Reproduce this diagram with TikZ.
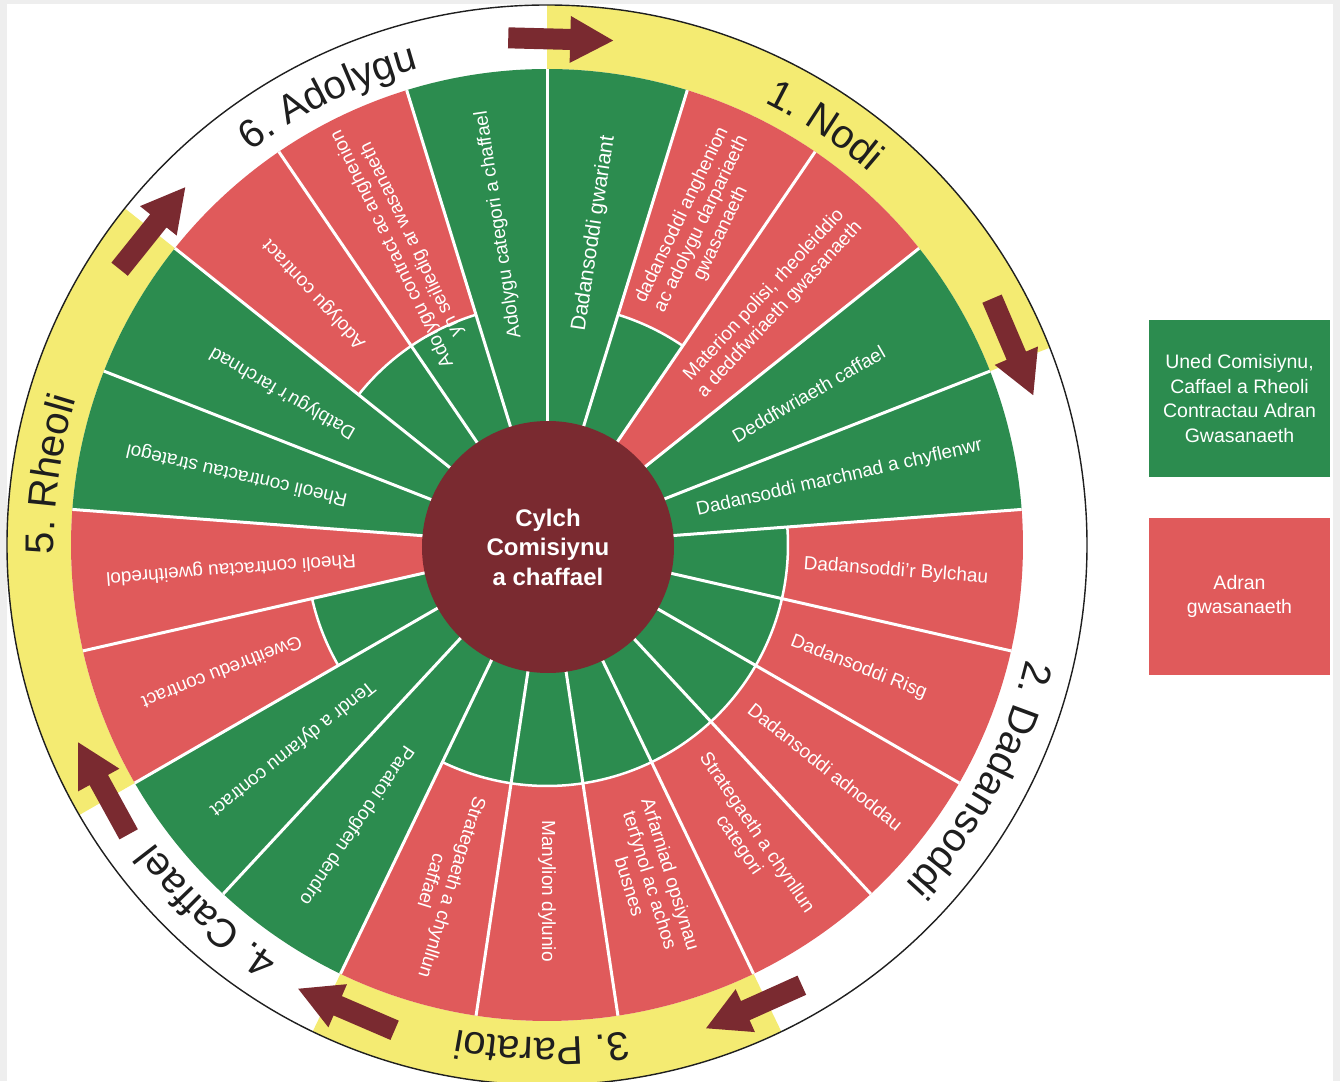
\documentclass[tikz,border=0pt]{standalone}
\usepackage{fontspec}
\setmainfont{Liberation Sans}
\usetikzlibrary{decorations.text}
\definecolor{wgreen}{HTML}{2C8C4F}
\definecolor{wred}{HTML}{E05A5B}
\definecolor{wmaroon}{HTML}{7A2A30}
\definecolor{wyellow}{HTML}{F4EB72}
\definecolor{wgray}{HTML}{EEEEEE}
\definecolor{wtext}{HTML}{1E1E1E}
\newcommand\wedgefont{\fontsize{19}{21.5}\selectfont}
\newcommand\seclabfont{\fontsize{40}{40}\selectfont}
\begin{document}
\begin{tikzpicture}[x=1pt,y=1pt,
  wlabel/.style={text=white,font=\wedgefont,align=center,inner sep=0pt},
  legendbox/.style={minimum width=181pt,minimum height=157pt,inner sep=0pt,text=white,align=center,font=\fontsize{19.5}{24.5}\selectfont},
  spoke/.style={white,line width=3pt},
  ringarc/.style={white,line width=2.5pt},
  flowarrow/.style={fill=wmaroon}]
\useasboundingbox (-547,-536) rectangle (793,545);
\fill[wgray] (-547,-536) rectangle (793,545);
\fill[white] (-540,-536) rectangle (786,541);
\pgfmathsetmacro\wdeg{360/21}
% yellow ring sections
\foreach \s/\e in {90/21.428571, -64.285714/-115.714286, -150/-218.571429}
  \fill[wyellow] (\s:476) arc[start angle=\s,end angle=\e,radius=476] -- (\e:540) arc[start angle=\e,end angle=\s,radius=540] -- cycle;
% flow arrows
\foreach \t in {88.5,23.1,-65.8,-113.3,-151.2,141.3}
  \fill[flowarrow, shift={(\t:506)}, rotate=\t-90] (-52,-10.5) -- (10,-10.5) -- (10,-23.5) -- (53,0) -- (10,23.5) -- (10,10.5) -- (-52,10.5) -- cycle;
% wedges
\foreach \k/\ci/\co in {0/wgreen/wgreen, 1/wgreen/wred, 2/wred/wred, 3/wgreen/wgreen, 4/wgreen/wgreen, 5/wgreen/wred, 6/wgreen/wred, 7/wgreen/wred, 8/wgreen/wred, 9/wgreen/wred, 10/wgreen/wred, 11/wgreen/wred, 12/wgreen/wgreen, 13/wgreen/wgreen, 14/wgreen/wred, 15/wred/wred, 16/wgreen/wgreen, 17/wgreen/wgreen, 18/wgreen/wred, 19/wgreen/wred, 20/wgreen/wgreen}{
  \pgfmathsetmacro\a{90-\k*\wdeg}
  \pgfmathsetmacro\b{\a-\wdeg}
  \fill[\co] (0,0) -- (\a:476) arc[start angle=\a,end angle=\b,radius=476] -- cycle;
  \fill[\ci] (0,0) -- (\a:241) arc[start angle=\a,end angle=\b,radius=241] -- cycle;
}
\foreach \k in {0,...,20}
  \draw[spoke] (0,0) -- ({90-\k*\wdeg}:476);
\foreach \k in {1,5,6,7,8,9,10,11,14,18,19}{
  \pgfmathsetmacro\a{90-\k*\wdeg}
  \pgfmathsetmacro\b{\a-\wdeg}
  \draw[ringarc] (\a:241) arc[start angle=\a,end angle=\b,radius=241];
}
% hub
\node[circle,fill=wmaroon,minimum size=252pt,inner sep=0pt,text=white,align=center,font=\bfseries\fontsize{24}{29.5}\selectfont] (hub) at (1,-2) {Cylch\\Comisiynu\\a chaffael};
% wedge labels
\node[wlabel,font=\fontsize{21}{23}\selectfont,rotate=81.4286] (w0) at (81.4286:315) {Dadansoddi gwariant};
\foreach \k/\r/\txt in {
  1/356/{dadansoddi anghenion\\ac adolygu darpariaeth\\gwasanaeth},
  2/331/{Materion polisi, rheoleiddio\\a deddfwriaeth gwasanaeth},
  3/302/{Deddfwriaeth caffael},
  4/300/{Dadansoddi marchnad a chyflenwr},
  5/350/{Dadansoddi'r Bylchau},
  6/335/{Dadansoddi Risg},
  7/356/{Dadansoddi adnoddau},
  8/356/{Strategaeth a chynllun\\categori},
  9/351/{Arfarniad opsiynau\\terfynol ac achos\\busnes},
  10/346/{Manylion dylunio},
  11/355/{Strategaeth a chynllun\\caffael},
  12/339/{Paratoi dogfen dendro},
  13/326/{Tendr a dyfarnu contract},
  14/349/{Gweithredu contract},
  15/317/{Rheoli contractau gweithredol},
  16/318/{Rheoli contractau strategol},
  17/305/{Datblygu'r farchnad},
  18/342/{Adolygu contract},
  19/334/{Adolygu contract ac anghenion\\yn seiliedig ar wasanaeth},
  20/324/{Adolygu categori a chaffael}}{
  \pgfmathsetmacro\m{90-(\k+0.5)*\wdeg}
  \node[wlabel,rotate=\m] (w\k) at (\m:\r) {\txt};
}
% section labels
\path[decorate,decoration={text along path,text align=center,text color=wtext,text={|\seclabfont|1. Nodi}}] (101.5:493) arc[start angle=101.5,end angle=11.5,radius=493];
\path[decorate,decoration={text along path,text align=center,text color=wtext,text={|\seclabfont|2. Dadansoddi}}] (16.6:493) arc[start angle=16.6,end angle=-73.4,radius=493];
\path[decorate,decoration={text along path,text align=center,text color=wtext,text={|\seclabfont|3. Paratoi}}] (-45.6:493) arc[start angle=-45.6,end angle=-135.6,radius=493];
\path[decorate,decoration={text along path,text align=center,text color=wtext,text={|\seclabfont|4. Caffael}}] (-87.9:493) arc[start angle=-87.9,end angle=-177.9,radius=493];
\path[decorate,decoration={text along path,text align=center,text color=wtext,text={|\seclabfont|5. Rheoli}}] (216.9:493) arc[start angle=216.9,end angle=126.9,radius=493];
\path[decorate,decoration={text along path,text align=center,text color=wtext,text={|\seclabfont|6. Adolygu}}] (161:493) arc[start angle=161,end angle=71,radius=493];
% outer circle
\draw[black!88,line width=1.4pt] (0,0) circle[radius=540];
% legend
\node[legendbox,fill=wgreen] (leg1) at (692.5,146.5) {Uned Comisiynu,\\Caffael a Rheoli\\Contractau Adran\\Gwasanaeth};
\node[legendbox,fill=wred] (leg2) at (692.5,-51.5) {Adran\\gwasanaeth};
\end{tikzpicture}
\end{document}
